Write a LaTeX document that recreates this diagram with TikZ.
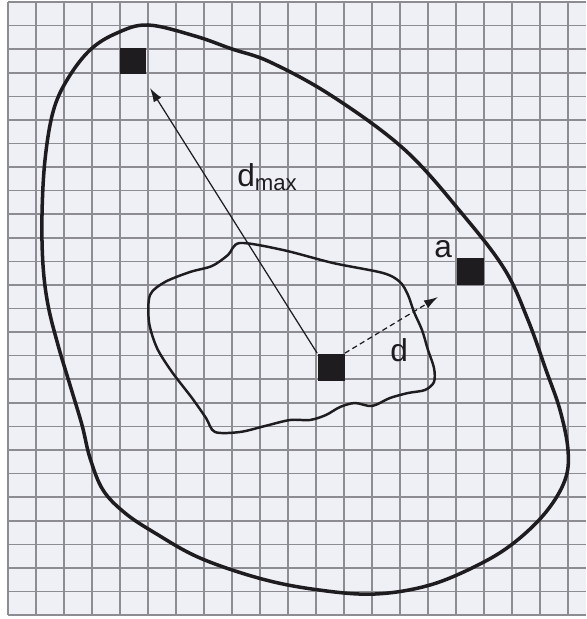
\documentclass[tikz,border=0pt]{standalone}
\usepackage{fontspec}
\setmainfont{Liberation Sans}
\usetikzlibrary{arrows.meta}
\definecolor{paper}{RGB}{238,240,246}
\definecolor{gridgray}{RGB}{140,140,146}
\definecolor{ink}{RGB}{30,28,30}

\begin{document}
\begin{tikzpicture}[x=0.02cm, y=-0.02cm,
    gridline/.style={gridgray, line width=0.9pt},
    outline/.style={ink, line width=2pt},
    blob/.style={ink, line width=1.4pt},
    sq/.style={fill=ink, draw=none, minimum size=0.54cm, inner sep=0pt},
    lbl/.style={font=\fontsize{18}{21}\selectfont, text=ink, inner sep=0pt},
    ptr/.style={ink, line width=0.7pt, -{Latex[length=8pt, width=5pt]}}]

        % --- Paper grid ---
        \useasboundingbox (0,0) rectangle (586,619);
        \fill[paper] (8,2) rectangle (586,615);
        \foreach \k in {0,...,20}
            \draw[gridline] (8+28*\k, 2) -- (8+28*\k, 615);
        \foreach \k in {0,...,26}
            \draw[gridline] (8, 2+23.58*\k) -- (586, 2+23.58*\k);

        % --- Outer boundary ---
        \draw[outline] plot[smooth cycle, tension=0.6] coordinates {
            (148,25) (195,36) (232,49) (270,62) (332,96) (405,150) (464,216)
            (505,270) (528,320) (546,370) (560,410) (568,450) (565,480)
            (546,512) (515,542) (480,564) (430,585) (375,594) (319,590)
            (262,579) (200,558) (155,533) (125,513) (103,490) (90,458)
            (82,425) (70,385) (58,345) (48,305) (43,265) (42,215) (45,160)
            (53,112) (67,80) (90,50) (117,33)};

        % --- Inner region ---
        \draw[blob] plot[smooth cycle, tension=0.5] coordinates {
            (240,243) (283,250) (333,263) (383,273) (400,282) (408,295)
            (414,312) (422,330) (428,350) (434,368) (434,382) (425,390)
            (408,393) (390,398) (372,406) (355,403) (340,407) (326,415)
            (310,420) (290,420) (265,426) (240,432) (215,432) (206,418)
            (192,398) (172,372) (157,348) (149,322) (150,295) (165,282)
            (190,272) (212,266) (228,255)};

        % --- Cells ---
        \node[sq] (far) at (133,61) {};
        \node[sq] (center) at (331,367) {};
        \node[sq] (edge) at (470,271) {};

        % --- Distances ---
        \coordinate (farTip) at (150,88);
        \coordinate (dTip) at (438,297);
        \draw[ptr] (center.north west) -- (farTip);
        \draw[ptr, densely dashed] (center.north east) -- (dTip);

        % --- Labels ---
        \node[lbl, anchor=base west] (dmax) at (237,186) {d\textsubscript{max}};
        \node[lbl, anchor=base west] (dlab) at (390,361) {d};
        \node[lbl, anchor=base west] (alab) at (434,257) {a};

\end{tikzpicture}
\end{document}
